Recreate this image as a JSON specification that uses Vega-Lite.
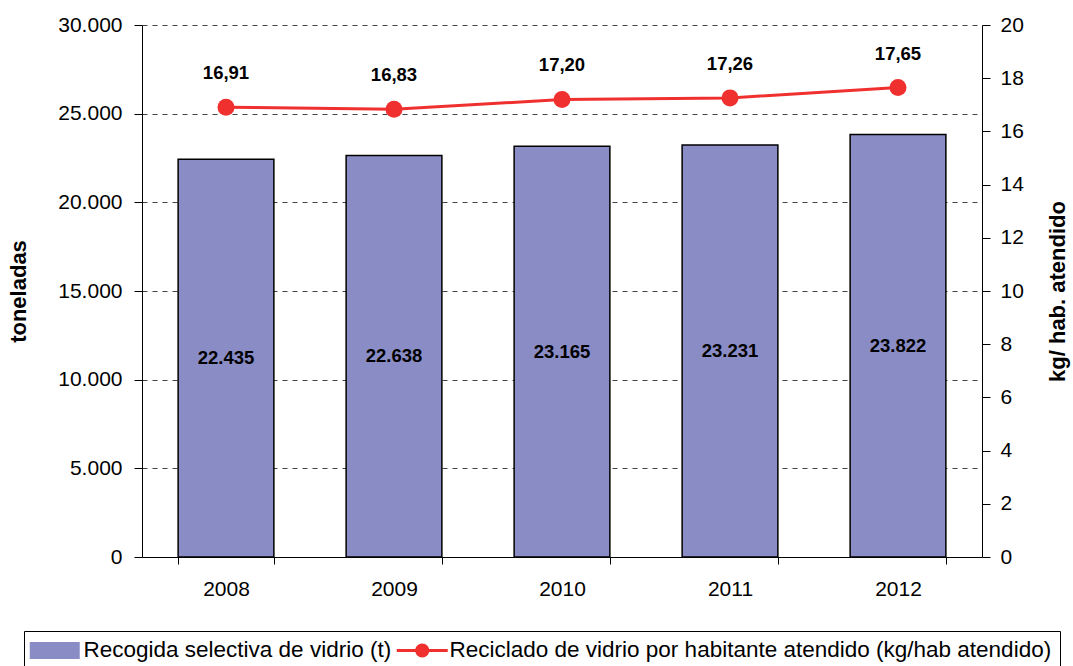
{
  "$schema": "https://vega.github.io/schema/vega-lite/v6.json",
  "width": 840,
  "height": 532,
  "autosize": {"type": "none"},
  "padding": {"left": 142, "top": 25, "right": 91, "bottom": 109},
  "background": "white",
  "config": {
    "locale": {"number": {"decimal": ",", "thousands": ".", "grouping": [3], "currency": ["", " €"]}},
    "font": "Liberation Sans",
    "view": {"stroke": null},
    "axis": {
      "labelFont": "Liberation Sans", "labelFontSize": 21, "labelColor": "black",
      "titleFont": "Liberation Sans", "titleFontSize": 22, "titleFontWeight": "bold", "titleColor": "black",
      "domainColor": "black", "tickColor": "black", "domainWidth": 1, "tickWidth": 1
    },
    "legend": {
      "orient": "none", "legendX": -118, "legendY": 606, "direction": "horizontal",
      "labelFont": "Liberation Sans", "labelFontSize": 22.5, "labelColor": "black", "labelLimit": 2000,
      "symbolSize": 625, "labelOffset": 29, "columnPadding": 4,
      "strokeColor": "black", "padding": 8,
      "symbolStrokeColor": "#000000", "symbolStrokeWidth": 2
    }
  },
  "data": {
    "values": [
      {"year": "2008", "t": 22435, "kg": 16.91},
      {"year": "2009", "t": 22638, "kg": 16.83},
      {"year": "2010", "t": 23165, "kg": 17.20},
      {"year": "2011", "t": 23231, "kg": 17.26},
      {"year": "2012", "t": 23822, "kg": 17.65}
    ]
  },
  "encoding": {
    "x": {
      "field": "year", "type": "nominal",
      "scale": {"paddingInner": 0.43, "paddingOuter": 0.215},
      "axis": {"title": null, "labelAngle": 0, "tickBand": "extent", "tickSize": 7, "labelPadding": 14, "grid": false}
    }
  },
  "layer": [
    {
      "mark": {"type": "bar", "stroke": "black", "strokeWidth": 1.5},
      "encoding": {
        "y": {
          "field": "t", "type": "quantitative",
          "scale": {"domain": [0, 30000], "nice": false},
          "axis": {
            "title": "toneladas", "orient": "left",
            "values": [0, 5000, 10000, 15000, 20000, 25000, 30000],
            "format": ",.0f", "grid": true, "gridDash": [5, 5], "gridColor": "#444",
            "tickSize": 8, "labelPadding": 12, "titlePadding": 27
          }
        },
        "color": {
          "datum": "Recogida selectiva de vidrio (t)", "type": "nominal",
          "scale": {
            "domain": ["Recogida selectiva de vidrio (t)", "Reciclado de vidrio por habitante atendido (kg/hab atendido)"],
            "range": ["#8A8DC5", "#F0302E"]
          },
          "legend": {
            "title": null,
            "encode": {
              "symbols": {
                "update": {
                  "shape": {"signal": "datum.value === 'Recogida selectiva de vidrio (t)' ? 'M-1,-0.6H2.84V0.6H-1Z' : 'M-1,-0.12H3.08V0.12H-1Z M1.6,0A0.56,0.56 0 1,1 0.48,0A0.56,0.56 0 1,1 1.6,0Z'"},
                  "fill": {"signal": "datum.value === 'Recogida selectiva de vidrio (t)' ? '#8A8DC5' : '#F0302E'"},
                  "stroke": {"signal": "datum.value === 'Recogida selectiva de vidrio (t)' ? '#000000' : '#F0302E'"},
                  "strokeWidth": {"signal": "datum.value === 'Recogida selectiva de vidrio (t)' ? 2 : 0"},
                  "strokeOpacity": {"value": 1},
                  "opacity": {"value": 1}
                }
              }
            }
          }
        }
      }
    },
    {
      "mark": {"type": "text", "fontWeight": "bold", "fontSize": 18.5, "baseline": "middle", "color": "black"},
      "encoding": {
        "y": {"field": "t", "type": "quantitative", "scale": {"domain": [0, 60000], "nice": false}, "axis": null},
        "text": {"field": "t", "type": "quantitative", "format": ",.0f"}
      }
    },
    {
      "layer": [
        {
          "mark": {"type": "line", "strokeWidth": 3},
          "encoding": {"color": {"datum": "Reciclado de vidrio por habitante atendido (kg/hab atendido)", "type": "nominal",
            "legend": {
              "title": null,
              "encode": {
                "symbols": {
                  "update": {
                    "shape": {"signal": "datum.value === 'Recogida selectiva de vidrio (t)' ? 'M-1,-0.6H2.84V0.6H-1Z' : 'M-1,-0.12H3.08V0.12H-1Z M1.6,0A0.56,0.56 0 1,1 0.48,0A0.56,0.56 0 1,1 1.6,0Z'"},
                    "fill": {"signal": "datum.value === 'Recogida selectiva de vidrio (t)' ? '#8A8DC5' : '#F0302E'"},
                    "stroke": {"signal": "datum.value === 'Recogida selectiva de vidrio (t)' ? '#000000' : '#F0302E'"},
                    "strokeWidth": {"signal": "datum.value === 'Recogida selectiva de vidrio (t)' ? 2 : 0"},
                    "strokeOpacity": {"value": 1},
                    "opacity": {"value": 1}
                  }
                }
              }
            }}}
        },
        {
          "mark": {"type": "point", "filled": true, "size": 289, "opacity": 1, "color": "#F0302E"},
          "encoding": {}
        },
        {
          "mark": {"type": "text", "fontWeight": "bold", "fontSize": 18.5, "dy": -34, "baseline": "middle", "color": "black"},
          "encoding": {"text": {"field": "kg", "type": "quantitative", "format": ".2f"}}
        }
      ],
      "encoding": {
        "y": {
          "field": "kg", "type": "quantitative",
          "scale": {"domain": [0, 20], "nice": false},
          "axis": {
            "title": "kg/ hab. atendido", "orient": "right",
            "values": [0, 2, 4, 6, 8, 10, 12, 14, 16, 18, 20],
            "grid": false, "tickSize": 8, "labelPadding": 10,
            "titleAngle": 270, "titleBaseline": "top", "titlePadding": 24
          }
        }
      }
    }
  ],
  "resolve": {"scale": {"y": "independent"}}
}
